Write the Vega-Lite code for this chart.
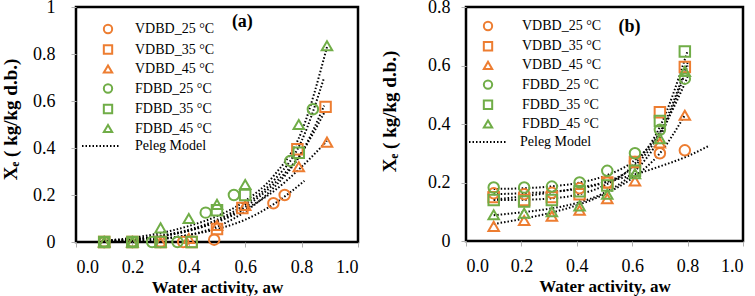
{
  "$schema": "https://vega.github.io/schema/vega-lite/v6.json",
  "background": "white",
  "padding": {"left": 0, "top": -4, "right": 0, "bottom": 0},
  "spacing": 19,
  "datasets": {
    "pa": [
      {"x": 0.1, "y": 0, "s": "VDBD_25 °C"}, {"x": 0.2, "y": 0, "s": "VDBD_25 °C"}, {"x": 0.3, "y": 0, "s": "VDBD_25 °C"}, {"x": 0.38, "y": 0, "s": "VDBD_25 °C"}, {"x": 0.49, "y": 0.01, "s": "VDBD_25 °C"}, {"x": 0.7, "y": 0.165, "s": "VDBD_25 °C"}, {"x": 0.74, "y": 0.2, "s": "VDBD_25 °C"},
      {"x": 0.1, "y": 0, "s": "VDBD_35 °C"}, {"x": 0.2, "y": 0, "s": "VDBD_35 °C"}, {"x": 0.3, "y": 0, "s": "VDBD_35 °C"}, {"x": 0.41, "y": 0, "s": "VDBD_35 °C"}, {"x": 0.5, "y": 0.055, "s": "VDBD_35 °C"}, {"x": 0.59, "y": 0.145, "s": "VDBD_35 °C"}, {"x": 0.785, "y": 0.395, "s": "VDBD_35 °C"}, {"x": 0.885, "y": 0.575, "s": "VDBD_35 °C"},
      {"x": 0.1, "y": 0, "s": "VDBD_45 °C"}, {"x": 0.2, "y": 0, "s": "VDBD_45 °C"}, {"x": 0.3, "y": 0, "s": "VDBD_45 °C"}, {"x": 0.4, "y": 0.015, "s": "VDBD_45 °C"}, {"x": 0.5, "y": 0.07, "s": "VDBD_45 °C"}, {"x": 0.6, "y": 0.155, "s": "VDBD_45 °C"}, {"x": 0.79, "y": 0.32, "s": "VDBD_45 °C"}, {"x": 0.89, "y": 0.425, "s": "VDBD_45 °C"},
      {"x": 0.1, "y": 0, "s": "FDBD_25 °C"}, {"x": 0.2, "y": 0, "s": "FDBD_25 °C"}, {"x": 0.27, "y": 0, "s": "FDBD_25 °C"}, {"x": 0.36, "y": 0, "s": "FDBD_25 °C"}, {"x": 0.46, "y": 0.125, "s": "FDBD_25 °C"}, {"x": 0.56, "y": 0.2, "s": "FDBD_25 °C"}, {"x": 0.76, "y": 0.345, "s": "FDBD_25 °C"}, {"x": 0.84, "y": 0.565, "s": "FDBD_25 °C"},
      {"x": 0.1, "y": 0, "s": "FDBD_35 °C"}, {"x": 0.2, "y": 0, "s": "FDBD_35 °C"}, {"x": 0.3, "y": 0, "s": "FDBD_35 °C"}, {"x": 0.41, "y": 0, "s": "FDBD_35 °C"}, {"x": 0.5, "y": 0.135, "s": "FDBD_35 °C"}, {"x": 0.6, "y": 0.2, "s": "FDBD_35 °C"}, {"x": 0.79, "y": 0.38, "s": "FDBD_35 °C"},
      {"x": 0.1, "y": 0, "s": "FDBD_45 °C"}, {"x": 0.2, "y": 0, "s": "FDBD_45 °C"}, {"x": 0.3, "y": 0.06, "s": "FDBD_45 °C"}, {"x": 0.4, "y": 0.1, "s": "FDBD_45 °C"}, {"x": 0.5, "y": 0.16, "s": "FDBD_45 °C"}, {"x": 0.6, "y": 0.245, "s": "FDBD_45 °C"}, {"x": 0.79, "y": 0.5, "s": "FDBD_45 °C"}, {"x": 0.89, "y": 0.835, "s": "FDBD_45 °C"}
    ],
    "ca": [
      {"x": 0.1, "y": 0.002, "c": "V25", "m": "Peleg Model"}, {"x": 0.2, "y": 0.006, "c": "V25", "m": "Peleg Model"}, {"x": 0.3, "y": 0.014, "c": "V25", "m": "Peleg Model"}, {"x": 0.4, "y": 0.03, "c": "V25", "m": "Peleg Model"}, {"x": 0.5, "y": 0.055, "c": "V25", "m": "Peleg Model"}, {"x": 0.6, "y": 0.095, "c": "V25", "m": "Peleg Model"}, {"x": 0.7, "y": 0.16, "c": "V25", "m": "Peleg Model"}, {"x": 0.81, "y": 0.26, "c": "V25", "m": "Peleg Model"},
      {"x": 0.1, "y": 0.001, "c": "V35", "m": "Peleg Model"}, {"x": 0.2, "y": 0.004, "c": "V35", "m": "Peleg Model"}, {"x": 0.3, "y": 0.012, "c": "V35", "m": "Peleg Model"}, {"x": 0.4, "y": 0.03, "c": "V35", "m": "Peleg Model"}, {"x": 0.5, "y": 0.065, "c": "V35", "m": "Peleg Model"}, {"x": 0.6, "y": 0.13, "c": "V35", "m": "Peleg Model"}, {"x": 0.7, "y": 0.23, "c": "V35", "m": "Peleg Model"}, {"x": 0.8, "y": 0.38, "c": "V35", "m": "Peleg Model"}, {"x": 0.88, "y": 0.58, "c": "V35", "m": "Peleg Model"},
      {"x": 0.1, "y": 0.005, "c": "V45", "m": "Peleg Model"}, {"x": 0.2, "y": 0.012, "c": "V45", "m": "Peleg Model"}, {"x": 0.3, "y": 0.025, "c": "V45", "m": "Peleg Model"}, {"x": 0.4, "y": 0.048, "c": "V45", "m": "Peleg Model"}, {"x": 0.5, "y": 0.085, "c": "V45", "m": "Peleg Model"}, {"x": 0.6, "y": 0.14, "c": "V45", "m": "Peleg Model"}, {"x": 0.7, "y": 0.215, "c": "V45", "m": "Peleg Model"}, {"x": 0.8, "y": 0.32, "c": "V45", "m": "Peleg Model"}, {"x": 0.89, "y": 0.43, "c": "V45", "m": "Peleg Model"},
      {"x": 0.1, "y": 0.004, "c": "F25", "m": "Peleg Model"}, {"x": 0.2, "y": 0.012, "c": "F25", "m": "Peleg Model"}, {"x": 0.3, "y": 0.027, "c": "F25", "m": "Peleg Model"}, {"x": 0.4, "y": 0.052, "c": "F25", "m": "Peleg Model"}, {"x": 0.5, "y": 0.095, "c": "F25", "m": "Peleg Model"}, {"x": 0.6, "y": 0.16, "c": "F25", "m": "Peleg Model"}, {"x": 0.7, "y": 0.26, "c": "F25", "m": "Peleg Model"}, {"x": 0.8, "y": 0.43, "c": "F25", "m": "Peleg Model"}, {"x": 0.88, "y": 0.7, "c": "F25", "m": "Peleg Model"},
      {"x": 0.1, "y": 0.003, "c": "F35", "m": "Peleg Model"}, {"x": 0.2, "y": 0.01, "c": "F35", "m": "Peleg Model"}, {"x": 0.3, "y": 0.024, "c": "F35", "m": "Peleg Model"}, {"x": 0.4, "y": 0.048, "c": "F35", "m": "Peleg Model"}, {"x": 0.5, "y": 0.088, "c": "F35", "m": "Peleg Model"}, {"x": 0.6, "y": 0.15, "c": "F35", "m": "Peleg Model"}, {"x": 0.7, "y": 0.245, "c": "F35", "m": "Peleg Model"}, {"x": 0.8, "y": 0.38, "c": "F35", "m": "Peleg Model"}, {"x": 0.88, "y": 0.55, "c": "F35", "m": "Peleg Model"},
      {"x": 0.1, "y": 0.006, "c": "F45", "m": "Peleg Model"}, {"x": 0.2, "y": 0.018, "c": "F45", "m": "Peleg Model"}, {"x": 0.3, "y": 0.038, "c": "F45", "m": "Peleg Model"}, {"x": 0.4, "y": 0.068, "c": "F45", "m": "Peleg Model"}, {"x": 0.5, "y": 0.11, "c": "F45", "m": "Peleg Model"}, {"x": 0.6, "y": 0.175, "c": "F45", "m": "Peleg Model"}, {"x": 0.7, "y": 0.28, "c": "F45", "m": "Peleg Model"}, {"x": 0.8, "y": 0.47, "c": "F45", "m": "Peleg Model"}, {"x": 0.89, "y": 0.83, "c": "F45", "m": "Peleg Model"}
    ],
    "pb": [
      {"x": 0.1, "y": 0.163, "s": "VDBD_25 °C"}, {"x": 0.21, "y": 0.16, "s": "VDBD_25 °C"}, {"x": 0.31, "y": 0.165, "s": "VDBD_25 °C"}, {"x": 0.41, "y": 0.18, "s": "VDBD_25 °C"}, {"x": 0.51, "y": 0.2, "s": "VDBD_25 °C"}, {"x": 0.61, "y": 0.27, "s": "VDBD_25 °C"}, {"x": 0.7, "y": 0.3, "s": "VDBD_25 °C"}, {"x": 0.79, "y": 0.31, "s": "VDBD_25 °C"},
      {"x": 0.1, "y": 0.15, "s": "VDBD_35 °C"}, {"x": 0.21, "y": 0.14, "s": "VDBD_35 °C"}, {"x": 0.31, "y": 0.15, "s": "VDBD_35 °C"}, {"x": 0.41, "y": 0.16, "s": "VDBD_35 °C"}, {"x": 0.51, "y": 0.2, "s": "VDBD_35 °C"}, {"x": 0.61, "y": 0.27, "s": "VDBD_35 °C"}, {"x": 0.7, "y": 0.44, "s": "VDBD_35 °C"}, {"x": 0.79, "y": 0.595, "s": "VDBD_35 °C"},
      {"x": 0.1, "y": 0.05, "s": "VDBD_45 °C"}, {"x": 0.21, "y": 0.07, "s": "VDBD_45 °C"}, {"x": 0.31, "y": 0.085, "s": "VDBD_45 °C"}, {"x": 0.41, "y": 0.105, "s": "VDBD_45 °C"}, {"x": 0.51, "y": 0.145, "s": "VDBD_45 °C"}, {"x": 0.61, "y": 0.205, "s": "VDBD_45 °C"}, {"x": 0.7, "y": 0.335, "s": "VDBD_45 °C"}, {"x": 0.79, "y": 0.43, "s": "VDBD_45 °C"},
      {"x": 0.1, "y": 0.183, "s": "FDBD_25 °C"}, {"x": 0.21, "y": 0.183, "s": "FDBD_25 °C"}, {"x": 0.31, "y": 0.186, "s": "FDBD_25 °C"}, {"x": 0.41, "y": 0.2, "s": "FDBD_25 °C"}, {"x": 0.51, "y": 0.24, "s": "FDBD_25 °C"}, {"x": 0.61, "y": 0.3, "s": "FDBD_25 °C"}, {"x": 0.7, "y": 0.38, "s": "FDBD_25 °C"}, {"x": 0.79, "y": 0.555, "s": "FDBD_25 °C"},
      {"x": 0.1, "y": 0.14, "s": "FDBD_35 °C"}, {"x": 0.21, "y": 0.135, "s": "FDBD_35 °C"}, {"x": 0.31, "y": 0.14, "s": "FDBD_35 °C"}, {"x": 0.41, "y": 0.17, "s": "FDBD_35 °C"}, {"x": 0.51, "y": 0.19, "s": "FDBD_35 °C"}, {"x": 0.61, "y": 0.24, "s": "FDBD_35 °C"}, {"x": 0.7, "y": 0.41, "s": "FDBD_35 °C"}, {"x": 0.79, "y": 0.648, "s": "FDBD_35 °C"},
      {"x": 0.1, "y": 0.09, "s": "FDBD_45 °C"}, {"x": 0.21, "y": 0.095, "s": "FDBD_45 °C"}, {"x": 0.31, "y": 0.1, "s": "FDBD_45 °C"}, {"x": 0.41, "y": 0.12, "s": "FDBD_45 °C"}, {"x": 0.51, "y": 0.16, "s": "FDBD_45 °C"}, {"x": 0.61, "y": 0.23, "s": "FDBD_45 °C"}, {"x": 0.7, "y": 0.35, "s": "FDBD_45 °C"}, {"x": 0.79, "y": 0.58, "s": "FDBD_45 °C"}
    ],
    "cb": [
      {"x": 0.1, "y": 0.142, "c": "V25", "m": "Peleg Model"}, {"x": 0.2, "y": 0.152, "c": "V25", "m": "Peleg Model"}, {"x": 0.3, "y": 0.165, "c": "V25", "m": "Peleg Model"}, {"x": 0.4, "y": 0.18, "c": "V25", "m": "Peleg Model"}, {"x": 0.5, "y": 0.2, "c": "V25", "m": "Peleg Model"}, {"x": 0.6, "y": 0.225, "c": "V25", "m": "Peleg Model"}, {"x": 0.7, "y": 0.255, "c": "V25", "m": "Peleg Model"}, {"x": 0.8, "y": 0.29, "c": "V25", "m": "Peleg Model"}, {"x": 0.88, "y": 0.327, "c": "V25", "m": "Peleg Model"},
      {"x": 0.1, "y": 0.16, "c": "V35", "m": "Peleg Model"}, {"x": 0.2, "y": 0.163, "c": "V35", "m": "Peleg Model"}, {"x": 0.3, "y": 0.168, "c": "V35", "m": "Peleg Model"}, {"x": 0.4, "y": 0.178, "c": "V35", "m": "Peleg Model"}, {"x": 0.5, "y": 0.2, "c": "V35", "m": "Peleg Model"}, {"x": 0.6, "y": 0.25, "c": "V35", "m": "Peleg Model"}, {"x": 0.7, "y": 0.37, "c": "V35", "m": "Peleg Model"}, {"x": 0.8, "y": 0.61, "c": "V35", "m": "Peleg Model"},
      {"x": 0.1, "y": 0.058, "c": "V45", "m": "Peleg Model"}, {"x": 0.2, "y": 0.075, "c": "V45", "m": "Peleg Model"}, {"x": 0.3, "y": 0.095, "c": "V45", "m": "Peleg Model"}, {"x": 0.4, "y": 0.122, "c": "V45", "m": "Peleg Model"}, {"x": 0.5, "y": 0.16, "c": "V45", "m": "Peleg Model"}, {"x": 0.6, "y": 0.215, "c": "V45", "m": "Peleg Model"}, {"x": 0.7, "y": 0.3, "c": "V45", "m": "Peleg Model"}, {"x": 0.79, "y": 0.43, "c": "V45", "m": "Peleg Model"},
      {"x": 0.1, "y": 0.178, "c": "F25", "m": "Peleg Model"}, {"x": 0.2, "y": 0.18, "c": "F25", "m": "Peleg Model"}, {"x": 0.3, "y": 0.186, "c": "F25", "m": "Peleg Model"}, {"x": 0.4, "y": 0.198, "c": "F25", "m": "Peleg Model"}, {"x": 0.5, "y": 0.222, "c": "F25", "m": "Peleg Model"}, {"x": 0.6, "y": 0.27, "c": "F25", "m": "Peleg Model"}, {"x": 0.7, "y": 0.37, "c": "F25", "m": "Peleg Model"}, {"x": 0.8, "y": 0.56, "c": "F25", "m": "Peleg Model"},
      {"x": 0.1, "y": 0.14, "c": "F35", "m": "Peleg Model"}, {"x": 0.2, "y": 0.141, "c": "F35", "m": "Peleg Model"}, {"x": 0.3, "y": 0.145, "c": "F35", "m": "Peleg Model"}, {"x": 0.4, "y": 0.158, "c": "F35", "m": "Peleg Model"}, {"x": 0.5, "y": 0.19, "c": "F35", "m": "Peleg Model"}, {"x": 0.6, "y": 0.255, "c": "F35", "m": "Peleg Model"}, {"x": 0.7, "y": 0.39, "c": "F35", "m": "Peleg Model"}, {"x": 0.8, "y": 0.65, "c": "F35", "m": "Peleg Model"},
      {"x": 0.1, "y": 0.088, "c": "F45", "m": "Peleg Model"}, {"x": 0.2, "y": 0.098, "c": "F45", "m": "Peleg Model"}, {"x": 0.3, "y": 0.11, "c": "F45", "m": "Peleg Model"}, {"x": 0.4, "y": 0.13, "c": "F45", "m": "Peleg Model"}, {"x": 0.5, "y": 0.165, "c": "F45", "m": "Peleg Model"}, {"x": 0.6, "y": 0.23, "c": "F45", "m": "Peleg Model"}, {"x": 0.7, "y": 0.355, "c": "F45", "m": "Peleg Model"}, {"x": 0.8, "y": 0.6, "c": "F45", "m": "Peleg Model"}
    ]
  },
  "hconcat": [
    {
      "width": 282,
      "height": 235,
      "layer": [
        {
          "data": {"name": "ca"},
          "mark": {"type": "line", "interpolate": "monotone", "strokeWidth": 2, "color": "black"},
          "encoding": {
            "x": {"field": "x", "type": "quantitative", "scale": {"domain": [0, 1], "nice": false}, "axis": {"values": [0, 0.2, 0.4, 0.6, 0.8, 1], "format": ".1f", "title": "Water activity, aw", "labelPadding": 11, "titlePadding": 3}},
            "y": {"field": "y", "type": "quantitative", "scale": {"domain": [0, 1], "nice": false}, "axis": {"values": [0, 0.2, 0.4, 0.6, 0.8, 1], "labelExpr": "datum.value == 0 ? '0' : datum.value == 1 ? '1' : format(datum.value, '.1f')", "title": "Xₑ  ( kg/kg d.b.)", "titleFontSize": 19, "titleY": 112, "labelPadding": 16, "titlePadding": 12}},
            "detail": {"field": "c", "type": "nominal"},
            "strokeDash": {"field": "m", "type": "nominal", "scale": {"domain": ["Peleg Model"], "range": [[1.5, 2]]}, "legend": {"title": null, "orient": "none", "legendX": 5, "legendY": 119, "symbolType": "stroke", "symbolSize": 1444, "symbolStrokeWidth": 2, "symbolStrokeColor": "black", "labelOffset": 14}}
          }
        },
        {
          "data": {"name": "pa"},
          "mark": {"type": "point", "filled": false, "size": 110, "strokeWidth": 2, "opacity": 1},
          "encoding": {
            "x": {"field": "x", "type": "quantitative"},
            "y": {"field": "y", "type": "quantitative"},
            "color": {"field": "s", "type": "nominal", "scale": {"domain": ["VDBD_25 °C", "VDBD_35 °C", "VDBD_45 °C", "FDBD_25 °C", "FDBD_35 °C", "FDBD_45 °C"], "range": ["#ED7D31", "#ED7D31", "#ED7D31", "#70AD47", "#70AD47", "#70AD47"]}, "legend": {"title": null, "orient": "none", "legendX": 25, "legendY": 15, "symbolSize": 70, "symbolStrokeWidth": 2, "labelOffset": 20, "rowPadding": 2.5}},
            "shape": {"field": "s", "type": "nominal", "scale": {"domain": ["VDBD_25 °C", "VDBD_35 °C", "VDBD_45 °C", "FDBD_25 °C", "FDBD_35 °C", "FDBD_45 °C"], "range": ["circle", "square", "triangle-up", "circle", "square", "triangle-up"]}, "legend": {"title": null, "orient": "none", "legendX": 25, "legendY": 15, "symbolSize": 70, "symbolStrokeWidth": 2, "labelOffset": 20, "rowPadding": 2.5}}
          }
        },
        {
          "data": {"values": [{}]},
          "mark": {"type": "text", "fontWeight": "bold", "fontSize": 18, "font": "Liberation Serif"},
          "encoding": {
            "x": {"datum": 0.59, "type": "quantitative"},
            "y": {"datum": 0.935, "type": "quantitative"},
            "text": {"value": "(a)"}
          }
        }
      ]
    },
    {
      "width": 277,
      "height": 234,
      "layer": [
        {
          "data": {"name": "cb"},
          "mark": {"type": "line", "interpolate": "monotone", "strokeWidth": 2, "color": "black"},
          "encoding": {
            "x": {"field": "x", "type": "quantitative", "scale": {"domain": [0, 1], "nice": false}, "axis": {"values": [0, 0.2, 0.4, 0.6, 0.8, 1], "format": ".1f", "title": "Water activity, aw", "labelPadding": 11, "titlePadding": 3}},
            "y": {"field": "y", "type": "quantitative", "scale": {"domain": [0, 0.8], "nice": false}, "axis": {"values": [0, 0.2, 0.4, 0.6, 0.8], "labelExpr": "datum.value == 0 ? '0' : format(datum.value, '.1f')", "title": "Xₑ  ( kg/kg d.b.)", "titleFontSize": 19, "titleY": 104, "labelPadding": 11, "titlePadding": 28}},
            "detail": {"field": "c", "type": "nominal"},
            "strokeDash": {"field": "m", "type": "nominal", "scale": {"domain": ["Peleg Model"], "range": [[1.5, 2]]}, "legend": {"title": null, "orient": "none", "legendX": 2, "legendY": 115, "symbolType": "stroke", "symbolSize": 1444, "symbolStrokeWidth": 2, "symbolStrokeColor": "black", "labelOffset": 12}}
          }
        },
        {
          "data": {"name": "pb"},
          "mark": {"type": "point", "filled": false, "size": 110, "strokeWidth": 2, "opacity": 1},
          "encoding": {
            "x": {"field": "x", "type": "quantitative"},
            "y": {"field": "y", "type": "quantitative"},
            "color": {"field": "s", "type": "nominal", "scale": {"domain": ["VDBD_25 °C", "VDBD_35 °C", "VDBD_45 °C", "FDBD_25 °C", "FDBD_35 °C", "FDBD_45 °C"], "range": ["#ED7D31", "#ED7D31", "#ED7D31", "#70AD47", "#70AD47", "#70AD47"]}, "legend": {"title": null, "orient": "none", "legendX": 15, "legendY": 12, "symbolSize": 70, "symbolStrokeWidth": 2, "labelOffset": 27, "rowPadding": 2.2}},
            "shape": {"field": "s", "type": "nominal", "scale": {"domain": ["VDBD_25 °C", "VDBD_35 °C", "VDBD_45 °C", "FDBD_25 °C", "FDBD_35 °C", "FDBD_45 °C"], "range": ["circle", "square", "triangle-up", "circle", "square", "triangle-up"]}, "legend": {"title": null, "orient": "none", "legendX": 15, "legendY": 12, "symbolSize": 70, "symbolStrokeWidth": 2, "labelOffset": 27, "rowPadding": 2.2}}
          }
        },
        {
          "data": {"values": [{}]},
          "mark": {"type": "text", "fontWeight": "bold", "fontSize": 18, "font": "Liberation Serif"},
          "encoding": {
            "x": {"datum": 0.59, "type": "quantitative"},
            "y": {"datum": 0.732, "type": "quantitative"},
            "text": {"value": "(b)"}
          }
        }
      ]
    }
  ],
  "resolve": {
    "scale": {"color": "independent", "shape": "independent", "strokeDash": "independent", "x": "independent", "y": "independent"},
    "legend": {"color": "independent", "shape": "independent", "strokeDash": "independent"}
  },
  "config": {
    "font": "Liberation Serif",
    "view": {"stroke": "black", "strokeWidth": 2.5},
    "axis": {"grid": false, "domain": false, "labelFont": "Liberation Serif", "labelFontSize": 18, "labelColor": "black", "titleFont": "Liberation Serif", "titleFontSize": 17, "titleFontWeight": "bold", "titleColor": "black", "tickColor": "#b0b0b0", "tickSize": 5},
    "legend": {"labelFont": "Liberation Serif", "labelFontSize": 14, "labelColor": "black", "padding": 0}
  }
}
